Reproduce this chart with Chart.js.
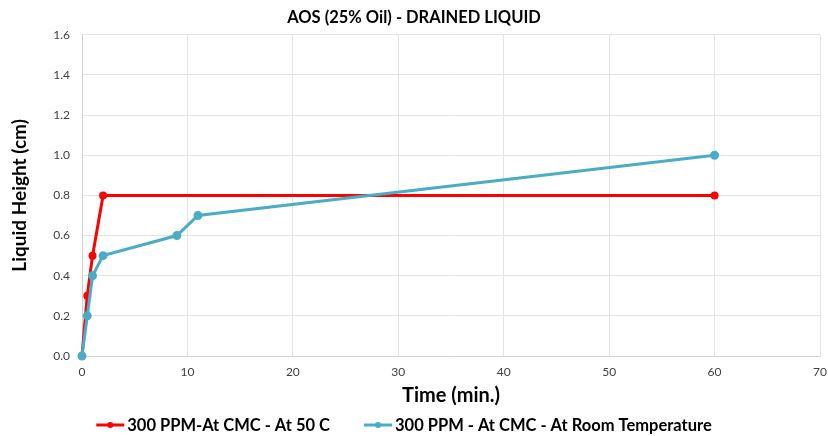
<!DOCTYPE html>
<html><head><meta charset="utf-8">
<script src="https://cdn.jsdelivr.net/npm/chart.js@4/dist/chart.umd.min.js"></script>
<style>html,body{margin:0;padding:0;background:#fff}#w{width:828px;height:436px}</style>
</head><body><div id="w"><canvas id="c"></canvas></div>
<script>
const title = "AOS (25% Oil) - DRAINED LIQUID";
const xTitle = "Time (min.)";
const yTitle = "Liquid Height (cm)";
const redLabel = "300 PPM-At CMC - At 50 C";
const redTime = [0, 0.5, 1, 2, 60];
const redHeight = [0, 0.3, 0.5, 0.8, 0.8];
const blueLabel = "300 PPM - At CMC - At Room Temperature";
const blueTime = [0, 0.5, 1, 2, 9, 11, 60];
const blueHeight = [0, 0.2, 0.4, 0.5, 0.6, 0.7, 1.0];
const FONT = "Lato";
const toXY = (xs, ys) => xs.map((x, i) => ({x: x, y: ys[i]}));

const legendPlugin = {
  id: 'lineLegend',
  afterDraw(chart) {
    const ctx = chart.ctx;
    const fs = 16.5, markW = 28, gapText = 3, gapItems = 34, cy = 425;
    ctx.save();
    ctx.font = 'bold ' + fs + 'px ' + FONT;
    const items = chart.data.datasets.map(d => ({ text: d.label, color: d.borderColor, w: ctx.measureText(d.label).width }));
    let total = items.reduce((a, it) => a + markW + gapText + it.w, 0) + gapItems * (items.length - 1);
    let x = 404 - total / 2;
    ctx.textBaseline = 'middle';
    items.forEach(it => {
      ctx.strokeStyle = it.color; ctx.lineWidth = 3;
      ctx.beginPath(); ctx.moveTo(x, cy); ctx.lineTo(x + markW, cy); ctx.stroke();
      ctx.fillStyle = it.color;
      ctx.beginPath(); ctx.arc(x + markW / 2, cy, 3, 0, Math.PI * 2); ctx.fill();
      ctx.fillStyle = '#000';
      ctx.fillText(it.text, x + markW + gapText, cy + 1);
      x += markW + gapText + it.w + gapItems;
    });
    ctx.restore();
  }
};

new Chart(document.getElementById('c'), {
  type: 'line',
  data: { datasets: [
    { label: redLabel, data: toXY(redTime, redHeight), borderColor: '#FF0000', backgroundColor: '#FF0000',
      borderWidth: 3, pointRadius: 2.5, pointHoverRadius: 2.5, order: 1, tension: 0, clip: false },
    { label: blueLabel, data: toXY(blueTime, blueHeight), borderColor: '#4BACC6', backgroundColor: '#4BACC6',
      borderWidth: 3, pointRadius: 3, pointHoverRadius: 3, order: 0, tension: 0, clip: false }
  ]},
  plugins: [legendPlugin],
  options: {
    responsive: true, maintainAspectRatio: false, animation: false,
    layout: { padding: { left: 0, right: 0, top: 0, bottom: 28 } },
    plugins: {
      title: { display: true, text: title, color: '#000', font: { family: FONT, size: 16.5, weight: 'bold' }, padding: { top: 8, bottom: 7 } },
      legend: { display: false },
      tooltip: { enabled: false }
    },
    scales: {
      x: { type: 'linear', min: 0, max: 70,
        ticks: { stepSize: 10, color: '#404040', font: { family: FONT, size: 12 }, padding: 9 },
        grid: { color: '#E3E3E3', drawTicks: false }, border: { color: '#D0D0D0' },
        title: { display: true, text: xTitle, color: '#000', font: { family: FONT, size: 20, weight: 'bold' }, padding: { top: 6, bottom: 0 } },
        afterFit: s => { s.height = 52; s.paddingRight = 8; s.paddingLeft = 0; } },
      y: { min: 0, max: 1.6,
        ticks: { stepSize: 0.2, color: '#404040', font: { family: FONT, size: 12 }, padding: 12, callback: v => v.toFixed(1) },
        grid: { color: '#E3E3E3', drawTicks: false }, border: { color: '#D0D0D0' },
        title: { display: true, text: yTitle, color: '#000', font: { family: FONT, size: 19, weight: 'bold' }, padding: { top: 8, bottom: 0 } },
        afterFit: s => { s.width = 82; } }
    }
  }
});
</script></body></html>
